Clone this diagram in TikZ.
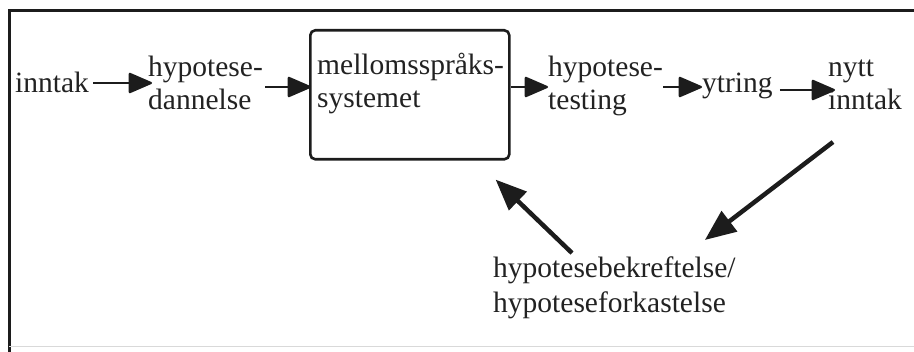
\documentclass[tikz,border=0pt]{standalone}
\usepackage{fontspec}
\setmainfont{Liberation Serif}
\usetikzlibrary{arrows.meta}
\definecolor{ink}{HTML}{1C1C1C}
\definecolor{txt}{HTML}{222222}
\begin{document}
\begin{tikzpicture}[x=1pt,y=-1pt,
  lbl/.style={anchor=base west, inner sep=0pt, align=left, text=txt,
    font=\fontsize{29.5}{33}\selectfont},
  flow/.style={draw=ink, line width=2.2pt, -{Triangle[length=25pt,width=21pt,round]}},
  back/.style={draw=ink, line width=4.5pt, -{Triangle[length=31pt,width=25pt]}},
  stage/.style={draw=ink, line width=2.6pt, rounded corners=5pt,
    minimum width=199pt, minimum height=129pt, anchor=north west, inner sep=0pt}]
\useasboundingbox (0,0) rectangle (914,352);
% frame
\draw[ink, line width=3pt] (9,352) -- (9,11) -- (914,11);
\draw[gray!30, line width=1pt] (9,347) -- (914,347);
% stages (multi-line labels are placed by their last baseline)
\node[lbl] (inn) at (15,93) {inntak};
\node[lbl] (hd) at (148,110) {hypotese-\\dannelse};
\node[stage] (box) at (309,29) {};
\node[lbl] (mst) at (317,108) {mellomsspråks-\\systemet};
\node[lbl] (ht) at (548,110) {hypotese-\\testing};
\node[lbl] (yt) at (702,93) {ytring};
\node[lbl] (ni) at (828,110) {nytt\\inntak};
\node[lbl, font=\fontsize{29.5}{35}\selectfont] (hb) at (493,313) {hypotesebekreftelse/\\hypoteseforkastelse};
% forward chain
\draw[flow] ([shift={(4,-10)}]inn.base east) -- ([shift={(4,-10)}]inn.base east -| hd.west);
\draw[flow] ([shift={(2,-23)}]hd.base east) -- ([shift={(2,-23)}]hd.base east -| box.west);
\draw[flow] ([shift={(0,-21)}]box.east |- mst.base) -- ([shift={(0,-21)}]mst.base -| ht.west);
\draw[flow] ([shift={(0,-23)}]ht.base east) -- ([shift={(0,-23)}]ht.base east -| yt.west);
\draw[flow] ([shift={(7,-3)}]yt.base east) -- ([shift={(7,-3)}]yt.base east -| ni.west);
% feedback
\draw[back] ([shift={(79,-4)}]hb.north west) -- ([shift={(-15,19)}]box.south east);
\draw[back] ([shift={(5,32)}]ni.base west) -- ([shift={(-31,-17)}]hb.north east);
\end{tikzpicture}
\end{document}
